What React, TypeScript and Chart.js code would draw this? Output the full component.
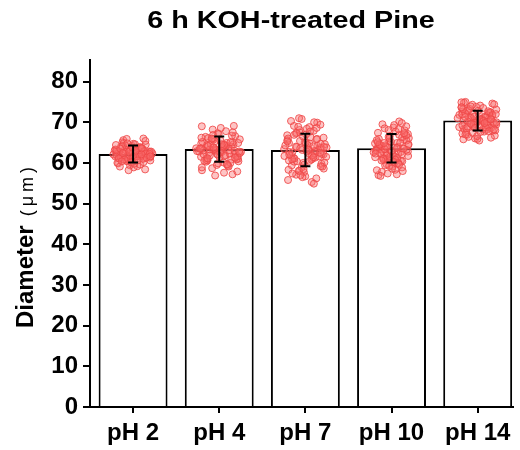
import { useEffect, useRef } from "react";
import { Chart, registerables } from "chart.js";

Chart.register(...registerables);

const chartTitle = "6 h KOH-treated Pine";
const groups = ["pH 2", "pH 4", "pH 7", "pH 10", "pH 14"];
const meanDiameter = [62.2, 63.4, 63.2, 63.6, 70.4];
const sdDiameter = [2.1, 3.1, 4.0, 3.5, 2.4];
const yTicks = [0, 10, 20, 30, 40, 50, 60, 70, 80];

// individual fibre diameters (µm) for each treatment pH
const fibresPH2 = [
  62.1, 63.4, 60.8, 61.9, 64.2, 62.7, 59.6, 63.0, 61.3, 62.5, 65.1, 60.2, 62.9, 61.6, 63.8,
  62.3, 58.4, 64.7, 61.1, 62.0, 63.3, 60.6, 62.6, 61.8, 66.0, 62.4, 59.9, 63.6, 61.4, 62.8,
  60.9, 64.0, 62.2, 61.5, 63.1, 59.2, 62.9, 64.5, 61.0, 62.3, 63.7, 60.4, 61.7, 62.6, 65.6,
  61.2, 63.2, 60.0, 62.1, 64.3, 61.9, 58.9, 62.7, 63.5, 60.7, 62.4, 61.6, 64.9, 62.0, 60.3,
  61.8, 63.9, 60.5, 62.6, 64.6, 61.4, 62.9, 59.4, 63.3, 62.0, 60.9, 65.4, 62.5, 61.1, 63.6,
  58.2, 62.8, 61.7, 64.1, 62.3, 60.1, 63.1, 61.5, 65.9, 62.2, 59.8, 63.5, 61.0, 62.7, 64.4,
  60.6, 62.4, 61.3, 63.8, 59.1, 62.1, 64.8, 61.6, 63.0, 60.4,
];
const fibresPH4 = [
  63.2, 65.8, 60.1, 64.4, 62.0, 67.3, 61.5, 63.9, 58.7, 64.9, 62.6, 66.4, 60.8, 63.5, 69.0,
  61.9, 64.1, 57.2, 63.0, 65.2, 62.3, 66.9, 60.4, 63.7, 61.2, 64.6, 59.5, 62.8, 67.8, 63.3,
  60.9, 65.5, 62.1, 64.0, 56.9, 63.6, 61.7, 66.1, 62.5, 59.9, 64.8, 63.1, 68.2, 61.0, 63.8,
  60.3, 65.0, 62.9, 58.2, 64.3, 62.4, 66.6, 61.4, 63.4, 59.1, 65.7, 62.7, 64.5, 60.6, 63.0,
  62.2, 66.2, 59.7, 64.7, 61.6, 68.6, 63.1, 60.0, 65.3, 62.9, 57.6, 64.2, 61.3, 67.1, 63.6,
  59.3, 65.9, 62.4, 64.0, 60.7, 66.7, 63.2, 58.9, 64.9, 61.8, 69.1, 62.6, 60.5, 65.1, 63.8,
  57.9, 64.4, 61.1, 67.5, 62.0, 63.5, 59.6, 66.0, 62.8, 64.6,
];
const fibresPH7 = [
  63.0, 67.5, 58.6, 64.8, 61.2, 69.9, 60.0, 65.6, 55.3, 63.9, 62.1, 68.4, 59.4, 64.2, 70.8,
  61.7, 66.3, 57.1, 63.5, 65.1, 60.6, 67.9, 58.0, 64.6, 62.4, 69.1, 56.2, 63.2, 66.8, 61.0,
  64.0, 59.8, 67.0, 62.7, 54.9, 65.4, 61.5, 68.8, 60.3, 63.7, 57.7, 66.0, 62.9, 71.0, 59.1,
  64.4, 61.9, 65.9, 58.9, 63.4, 60.8, 67.2, 62.2, 56.7, 64.9, 61.3, 68.1, 60.1, 63.1, 62.6,
  61.6, 66.5, 58.3, 64.1, 60.4, 69.4, 62.8, 57.4, 65.8, 63.6, 55.8, 67.7, 61.1, 64.7, 59.6,
  70.3, 62.3, 58.1, 66.2, 63.3, 60.9, 68.6, 56.5, 64.3, 61.8, 67.4, 59.2, 65.0, 62.0, 70.0,
  57.0, 63.8, 60.5, 66.9, 62.5, 58.5, 65.3, 61.4, 68.9, 63.9,
];
const fibresPH10 = [
  63.5, 66.9, 59.7, 64.6, 61.6, 69.5, 60.4, 65.3, 57.0, 64.0, 62.5, 68.0, 59.1, 63.8, 70.2,
  62.0, 66.1, 58.3, 63.3, 65.7, 61.1, 67.4, 60.0, 64.3, 62.8, 68.7, 57.8, 63.6, 66.4, 61.4,
  64.9, 60.7, 67.0, 62.9, 56.8, 65.0, 61.8, 69.0, 60.2, 64.1, 58.9, 66.6, 63.0, 62.2, 59.4,
  65.5, 61.9, 64.7, 60.5, 63.9, 62.6, 67.7, 61.3, 58.0, 65.2, 63.1, 68.3, 60.9, 64.4, 63.7,
  62.4, 66.3, 59.3, 64.8, 61.2, 68.5, 63.2, 58.6, 65.9, 62.7, 57.4, 67.1, 60.8, 64.2, 69.8,
  61.5, 65.6, 59.9, 63.4, 66.8, 60.3, 64.5, 62.1, 68.1, 58.2, 63.7, 61.0, 67.3, 62.9, 65.1,
  59.6, 64.0, 61.7, 69.3, 60.6, 63.5, 66.0, 62.3, 57.2, 64.9,
];
const fibresPH14 = [
  70.3, 72.6, 68.1, 71.2, 69.4, 74.1, 67.5, 70.9, 66.0, 71.8, 69.9, 73.3, 67.9, 70.6, 75.0,
  69.1, 72.0, 66.7, 70.1, 72.9, 68.6, 73.8, 67.2, 71.5, 69.7, 74.6, 65.5, 70.4, 72.3, 68.9,
  71.0, 68.3, 73.0, 70.0, 65.9, 71.9, 69.3, 74.3, 68.0, 70.7, 66.9, 72.5, 70.2, 73.6, 67.7,
  71.3, 69.6, 72.1, 68.4, 70.8, 69.0, 73.1, 70.5, 66.4, 71.6, 69.8, 74.8, 68.7, 71.1, 70.0,
  69.5, 72.2, 67.8, 71.4, 68.8, 73.5, 70.2, 66.2, 72.8, 69.2, 71.7, 67.4, 74.4, 70.6, 68.5,
  72.4, 69.9, 65.8, 71.1, 73.9, 68.2, 70.9, 67.0, 72.7, 69.4, 74.9, 70.3, 68.9, 71.8, 66.6,
  73.2, 70.1, 69.6, 72.0, 67.6, 71.3, 70.7, 68.6, 73.7, 69.8,
];
const fibreGroups = [fibresPH2, fibresPH4, fibresPH7, fibresPH10, fibresPH14];

const FONT = "'Liberation Sans', Arial, Helvetica, sans-serif";
// horizontal half-width of each point cloud, in category units
const CLOUD_HALF_WIDTH = [0.23, 0.27, 0.26, 0.22, 0.25];

// spread points sideways (golden-ratio sequence), narrowing away from the mean
function jitteredPoints() {
  const pts: { x: number; y: number }[] = [];
  fibreGroups.forEach((vals, g) => {
    vals.forEach((v, i) => {
      const u = ((i * 0.6180339887 + g * 0.37) % 1) - 0.5;
      const z = Math.min(Math.abs(v - meanDiameter[g]) / sdDiameter[g], 2.5);
      const w = CLOUD_HALF_WIDTH[g] * (1 - 0.12 * z);
      pts.push({ x: g + u * 2 * w, y: v });
    });
  });
  return pts;
}

const titlePlugin = {
  id: "wideTitle",
  afterDraw(chart: Chart) {
    const ctx = chart.ctx;
    ctx.save();
    ctx.font = `bold 23px ${FONT}`;
    ctx.fillStyle = "#000";
    ctx.textAlign = "center";
    ctx.textBaseline = "alphabetic";
    ctx.translate(291, 28);
    ctx.scale(1.25, 1);
    ctx.fillText(chartTitle, 0, 0);
    ctx.restore();
  },
};

const yTitlePlugin = {
  id: "yTitle",
  afterDraw(chart: Chart) {
    const ctx = chart.ctx;
    ctx.save();
    ctx.fillStyle = "#000";
    ctx.textAlign = "left";
    ctx.textBaseline = "alphabetic";
    ctx.translate(33, 328);
    ctx.rotate(-Math.PI / 2);
    ctx.font = `bold 24px ${FONT}`;
    ctx.fillText("Diameter", 0, 0);
    const w = ctx.measureText("Diameter").width;
    ctx.font = `18px ${FONT}`;
    (ctx as any).letterSpacing = "4px";
    ctx.fillText("(μm)", w + 9, 0);
    ctx.restore();
  },
};

const errorBarPlugin = {
  id: "errorBars",
  afterDatasetsDraw(chart: Chart) {
    const ctx = chart.ctx;
    const xs = chart.scales.x;
    const ys = chart.scales.y;
    ctx.save();
    ctx.strokeStyle = "#000";
    ctx.lineWidth = 2;
    meanDiameter.forEach((m, g) => {
      const x = xs.getPixelForValue(g);
      const top = ys.getPixelForValue(m + sdDiameter[g]);
      const bot = ys.getPixelForValue(m - sdDiameter[g]);
      ctx.beginPath();
      ctx.moveTo(x, top);
      ctx.lineTo(x, bot);
      ctx.moveTo(x - 5, top);
      ctx.lineTo(x + 5, top);
      ctx.moveTo(x - 5, bot);
      ctx.lineTo(x + 5, bot);
      ctx.stroke();
    });
    ctx.restore();
  },
};

export default function App() {
  const ref = useRef<HTMLCanvasElement>(null);

  useEffect(() => {
    if (!ref.current) return;
    const chart = new Chart(ref.current, {
      type: "bar",
      data: {
        datasets: [
          {
            type: "bar",
            data: meanDiameter.map((m, i) => ({ x: i, y: m })),
            backgroundColor: "#ffffff",
            borderColor: "#000000",
            borderWidth: 2,
            barPercentage: 0.8,
            categoryPercentage: 1,
            order: 2,
          } as any,
          {
            type: "scatter",
            data: jitteredPoints(),
            pointStyle: "circle",
            pointRadius: 3.5,
            pointBorderWidth: 1,
            pointBorderColor: "rgba(238, 72, 72, 0.85)",
            pointBackgroundColor: "rgba(250, 110, 110, 0.4)",
            showLine: false,
            order: 1,
          } as any,
        ],
      },
      options: {
        animation: false,
        responsive: false,
        layout: { padding: { top: 60, right: 7, left: 0, bottom: 0 } },
        plugins: { legend: { display: false }, tooltip: { enabled: false }, title: { display: false } },
        scales: {
          x: {
            type: "linear",
            min: -0.5,
            max: 4.41,
            offset: false,
            afterBuildTicks: (s: any) => {
              s.ticks = groups.map((_, i) => ({ value: i }));
            },
            afterFit: (s: any) => {
              s.height = 43;
            },
            grid: {
              display: true,
              offset: false,
              drawOnChartArea: false,
              drawTicks: true,
              tickLength: 6,
              color: "#000",
              lineWidth: 2,
            },
            border: { display: true, color: "#000", width: 2 },
            ticks: {
              padding: 6,
              color: "#000",
              font: { family: FONT, size: 24, weight: "bold" },
              callback: (v: any) => groups[Math.round(Number(v))] ?? "",
              maxRotation: 0,
              autoSkip: false,
            },
          },
          y: {
            type: "linear",
            min: 0,
            max: 85.3,
            afterBuildTicks: (s: any) => {
              s.ticks = yTicks.map((v) => ({ value: v }));
            },
            afterFit: (s: any) => {
              s.width = 90;
            },
            grid: {
              display: true,
              drawOnChartArea: false,
              drawTicks: true,
              tickLength: 7,
              color: "#000",
              lineWidth: 2,
            },
            border: { display: true, color: "#000", width: 2 },
            ticks: {
              padding: 5,
              color: "#000",
              font: { family: FONT, size: 24, weight: "bold" },
            },
          },
        },
      },
      plugins: [titlePlugin, yTitlePlugin, errorBarPlugin],
    });
    return () => chart.destroy();
  }, []);

  return (
    <div style={{ position: "absolute", left: 0, top: 0, width: 520, height: 450, background: "#fff" }}>
      <canvas ref={ref} width={520} height={450} />
    </div>
  );
}
